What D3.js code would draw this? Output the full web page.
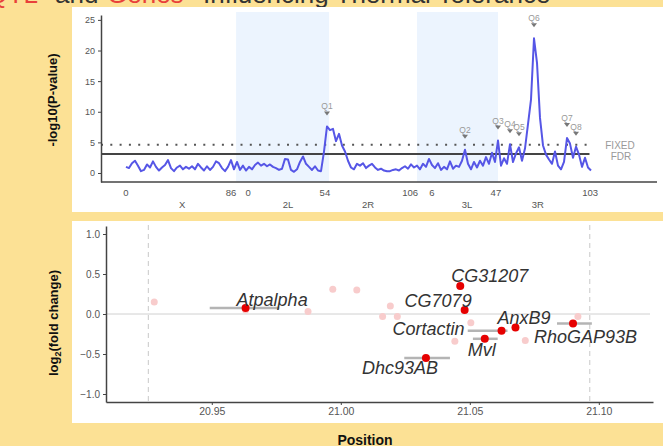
<!DOCTYPE html>
<html>
<head>
<meta charset="utf-8">
<script src="https://cdn.jsdelivr.net/npm/d3@7"></script>
<style>
  body { margin: 0; background: #fce195; }
  svg { display: block; font-family: "Liberation Sans", Arial, sans-serif; }
</style>
</head>
<body>
<svg id="chart" width="663" height="446"></svg>
<script>
// ---- top panel data: -log10(P) sampled along the genome (marker index) ----
var lodValues = [
  1.0, 0.8, 1.6, 2.0, 1.2, 0.3, 0.5, 1.4, 0.9, 1.9,
  1.0, 0.4, 0.9, 1.3, 2.1, 0.8, 0.3, 0.9, 1.2, 0.6,
  1.0, 0.7, 1.1, 0.6, 1.5, 0.9, 0.4, 1.1, 0.5, 1.0,
  1.9, 1.6, 0.8, 0.3, 1.0, 2.1, 0.6, 1.8, 0.5, 1.2,
  0.4, 1.0, 0.6, 1.3, 1.7, 1.2, 1.5, 1.1, 1.4, 1.0,
  0.8, 0.5, 0.7, 2.3, 2.2, 0.5, 0.2, 0.6, 1.8, 2.7,
  1.5, 1.0, 0.5, 1.1, 0.4, 0.3, 3.5, 7.6, 7.0, 7.2,
  5.2, 6.4, 4.5, 3.5, 2.0, 0.9, 0.6, 1.5, 1.2, 1.6,
  0.8, 1.2, 1.5, 0.9, 0.5, 0.7, 0.4, 0.3, 0.3, 0.5,
  0.6, 0.4, 0.8, 1.1, 0.7, 1.4, 0.9, 1.2, 0.6, 1.5,
  1.0, 2.3, 1.3, 0.8, 1.6, 0.5, 1.0, 0.6, 1.9, 0.7,
  1.2, 1.0, 2.0, 3.8, 1.5, 0.6, 1.8, 0.9, 2.0, 1.2,
  2.6, 1.5, 3.3, 1.8, 5.3, 1.2, 2.4, 1.5, 4.7, 1.8,
  3.2, 4.2, 2.0, 4.0, 8.0, 12.0, 22.0, 18.0, 9.0, 4.5,
  3.0, 2.2, 1.5, 3.5, 1.2, 0.6, 1.8, 5.7, 4.8, 2.5,
  4.3, 3.0, 1.0, 2.5, 0.9, 0.4
];

var armNames = ["X", "2L", "2R", "3L", "3R"];
var armLabelIdx = [18.7, 54, 80.7, 113.7, 137.3];
var shadedArms = [[36.7, 67.7], [97, 124]];

var cmTickIdx = [0, 35, 40.7, 66.3, 94.7, 102, 123.3, 154.7];
var cmTickLabels = ["0", "86", "0", "54", "106", "6", "47", "103"];

var qtlNames = ["Q1", "Q2", "Q3", "Q4", "Q5", "Q6", "Q7", "Q8"];
var qtlIdx = [67, 113, 124, 128, 131, 136, 147, 150];

var fixedThreshold = 4.6;
var fdrThreshold = 3.1;
var lodTicks = [0, 5, 10, 15, 20, 25];

// ---- bottom panel data: candidate genes ----
var geneNames = ["Atpalpha", "CG31207", "CG7079", "Cortactin", "AnxB9", "Mvl", "Dhc93AB", "RhoGAP93B"];
var genePos = [20.9631, 21.0463, 21.0480, 21.0623, 21.0677, 21.0558, 21.0330, 21.0900];
var geneFold = [0.075, 0.35, 0.05, -0.21, -0.17, -0.31, -0.55, -0.12];
var geneStart = [20.9492, null, null, 21.0492, null, 21.0512, 21.0246, 21.0838];
var geneEnd = [20.9762, null, null, 21.0646, null, 21.0608, 21.0423, 21.0973];

var otherPos = [20.9277, 20.9631, 20.9873, 20.9969, 21.0062, 21.0192, 21.0162, 21.0219, 21.0504, 21.0442, 21.0715, 21.0919];
var otherFold = [0.15, 0.05, 0.03, 0.31, 0.30, 0.10, -0.03, -0.03, -0.11, -0.34, -0.33, -0.03];

var intervalBounds = [20.9254, 21.0965];
var posTicks = [20.95, 21.00, 21.05, 21.10];
var foldTicks = [-1.0, -0.5, 0.0, 0.5, 1.0];

// label offsets (layout only)
var labelOffsets = [
  { dx: -9, dy: -2, anchor: "start" },
  { dx: -9, dy: -4, anchor: "start" },
  { dx: 7, dy: -3, anchor: "end" },
  { dx: -37, dy: 4, anchor: "end" },
  { dx: -18, dy: -4, anchor: "start" },
  { dx: -17, dy: 17, anchor: "start" },
  { dx: 12, dy: 16, anchor: "end" },
  { dx: -39, dy: 19, anchor: "start" }
];

drawChart();

function styleAxis(g, size) {
  g.select(".domain").attr("stroke", "#444").attr("stroke-width", 1.5);
  g.selectAll(".tick line").attr("stroke", "#444");
  g.selectAll(".tick text").attr("fill", "#555").style("font-size", size + "px");
}

function drawChart() {
  let svg = d3.select("#chart");

  svg.append("rect").attr("width", 663).attr("height", 446).attr("fill", "#fce195");

  // cut-off title
  let title = svg.append("text").attr("y", 3).style("font-size", "26px");
  title.append("tspan").attr("x", 38).attr("text-anchor", "end").attr("fill", "#e8403a").text("QTL");
  title.append("tspan").attr("x", 55).attr("fill", "#333").text("and");
  title.append("tspan").attr("x", 107).attr("fill", "#e8403a").text("Genes");
  title.append("tspan").attr("x", 203).attr("fill", "#333").text("Influencing Thermal Tolerance");

  // panels
  svg.append("rect").attr("x", 72).attr("y", 7).attr("width", 591).attr("height", 205).attr("fill", "#fff");
  svg.append("rect").attr("x", 72).attr("y", 221).attr("width", 591).attr("height", 202).attr("fill", "#fff");

  // ===== top panel =====
  let x = d3.scaleLinear().domain([-8.33, 177]).range([101, 657]);
  let y = d3.scaleLinear().domain([-1.47, 25.8]).range([182, 15]);

  svg.selectAll(".shade")
    .data(shadedArms)
    .enter().append("rect")
    .attr("class", "shade")
    .attr("x", d => x(d[0]))
    .attr("y", 12)
    .attr("width", d => x(d[1]) - x(d[0]))
    .attr("height", 182 - 12)
    .attr("fill", "#ecf4fe");

  let lastIdx = lodValues.length - 1;

  svg.append("line")
    .attr("x1", x.range()[0]).attr("x2", x(lastIdx - 1))
    .attr("y1", y(fixedThreshold)).attr("y2", y(fixedThreshold))
    .attr("stroke", "#555").attr("stroke-width", 2)
    .attr("stroke-dasharray", "2,7.3");

  svg.append("line")
    .attr("x1", x.range()[0]).attr("x2", x(lastIdx - 0.5))
    .attr("y1", y(fdrThreshold)).attr("y2", y(fdrThreshold))
    .attr("stroke", "#444").attr("stroke-width", 2);

  let line = d3.line()
    .x((d, i) => x(i))
    .y(d => y(d));

  svg.append("path")
    .datum(lodValues)
    .attr("fill", "none")
    .attr("stroke", "#5656e6")
    .attr("stroke-width", 2)
    .attr("stroke-linejoin", "round")
    .attr("d", line);

  svg.append("g")
    .attr("transform", "translate(101,0)")
    .call(d3.axisLeft(y).tickValues(lodTicks).tickSize(3).tickSizeOuter(0))
    .call(styleAxis, 9);

  svg.append("line")
    .attr("x1", 101).attr("x2", 657)
    .attr("y1", 182).attr("y2", 182)
    .attr("stroke", "#444").attr("stroke-width", 1.5);

  svg.selectAll(".cmTick")
    .data(cmTickIdx)
    .enter().append("text")
    .attr("class", "cmTick")
    .attr("x", d => x(d))
    .attr("y", 196)
    .attr("text-anchor", "middle")
    .attr("fill", "#555")
    .style("font-size", "9.5px")
    .text((d, i) => cmTickLabels[i]);

  svg.selectAll(".arm")
    .data(armLabelIdx)
    .enter().append("text")
    .attr("class", "arm")
    .attr("x", d => x(d))
    .attr("y", 207.5)
    .attr("text-anchor", "middle")
    .attr("fill", "#555")
    .style("font-size", "9.5px")
    .text((d, i) => armNames[i]);

  let q = svg.selectAll(".qtl")
    .data(qtlIdx)
    .enter().append("g")
    .attr("class", "qtl")
    .attr("transform", d => `translate(${x(d)}, ${y(lodValues[d]) - 17})`);

  q.append("text")
    .attr("y", 0)
    .attr("text-anchor", "middle")
    .attr("fill", "#999")
    .style("font-size", "8.5px")
    .text((d, i) => qtlNames[i]);

  q.append("path")
    .attr("d", "M-3,2 L3,2 L0,6 Z")
    .attr("fill", "#777");

  svg.append("text").attr("x", 620).attr("y", 149)
    .attr("text-anchor", "middle").attr("fill", "#999").style("font-size", "10px").text("FIXED");
  svg.append("text").attr("x", 621).attr("y", 160)
    .attr("text-anchor", "middle").attr("fill", "#999").style("font-size", "10px").text("FDR");

  svg.append("text")
    .attr("transform", "translate(57,100) rotate(-90)")
    .attr("text-anchor", "middle")
    .attr("fill", "#111")
    .style("font-size", "13px")
    .style("font-weight", "bold")
    .text("-log10(P-value)");

  // ===== bottom panel =====
  let xb = d3.scaleLinear().domain([20.909, 21.121]).range([106, 653]);
  let yb = d3.scaleLinear().domain([-1.1, 1.1]).range([402, 226]);

  svg.selectAll(".bound")
    .data(intervalBounds)
    .enter().append("line")
    .attr("class", "bound")
    .attr("x1", d => xb(d)).attr("x2", d => xb(d))
    .attr("y1", 225).attr("y2", 402)
    .attr("stroke", "#c8c8c8").attr("stroke-width", 1)
    .attr("stroke-dasharray", "5,4");

  svg.append("line")
    .attr("x1", 106).attr("x2", 650)
    .attr("y1", yb(0)).attr("y2", yb(0))
    .attr("stroke", "#d0d0d0").attr("stroke-width", 1);

  svg.selectAll(".other")
    .data(otherPos)
    .enter().append("circle")
    .attr("class", "other")
    .attr("cx", d => xb(d))
    .attr("cy", (d, i) => yb(otherFold[i]))
    .attr("r", 3.5)
    .attr("fill", "#f8cccc");

  let spans = geneNames.map((g, i) => ({ start: geneStart[i], end: geneEnd[i], fold: geneFold[i] }))
    .filter(d => d.start !== null);

  svg.selectAll(".span")
    .data(spans)
    .enter().append("line")
    .attr("class", "span")
    .attr("x1", d => xb(d.start)).attr("x2", d => xb(d.end))
    .attr("y1", d => yb(d.fold)).attr("y2", d => yb(d.fold))
    .attr("stroke", "#b4b4b4").attr("stroke-width", 2.5);

  svg.selectAll(".gene")
    .data(genePos)
    .enter().append("circle")
    .attr("class", "gene")
    .attr("cx", d => xb(d))
    .attr("cy", (d, i) => yb(geneFold[i]))
    .attr("r", 4)
    .attr("fill", "#e60000");

  svg.selectAll(".geneLabel")
    .data(genePos)
    .enter().append("text")
    .attr("class", "geneLabel")
    .attr("x", (d, i) => xb(d) + labelOffsets[i].dx)
    .attr("y", (d, i) => yb(geneFold[i]) + labelOffsets[i].dy)
    .attr("text-anchor", (d, i) => labelOffsets[i].anchor)
    .attr("fill", "#333")
    .style("font-size", "18px")
    .style("font-style", "italic")
    .text((d, i) => geneNames[i]);

  svg.append("g")
    .attr("transform", "translate(106,0)")
    .call(d3.axisLeft(yb).tickValues(foldTicks).tickFormat(d3.format(".1f")).tickSize(3).tickSizeOuter(0))
    .call(styleAxis, 10);

  svg.append("g")
    .attr("transform", "translate(0,402)")
    .call(d3.axisBottom(xb).tickValues(posTicks).tickFormat(d3.format(".2f")).tickSize(3).tickSizeOuter(0))
    .call(styleAxis, 10.5);

  let ylab = svg.append("text")
    .attr("transform", "translate(58,323) rotate(-90)")
    .attr("text-anchor", "middle")
    .attr("fill", "#111")
    .style("font-size", "13px")
    .style("font-weight", "bold");
  ylab.append("tspan").text("log");
  ylab.append("tspan").attr("dy", 3).style("font-size", "9px").text("2");
  ylab.append("tspan").attr("dy", -3).text("(fold change)");

  svg.append("text")
    .attr("x", 365).attr("y", 445)
    .attr("text-anchor", "middle")
    .attr("fill", "#111")
    .style("font-size", "14px")
    .style("font-weight", "bold")
    .text("Position");
}
</script>
</body>
</html>
